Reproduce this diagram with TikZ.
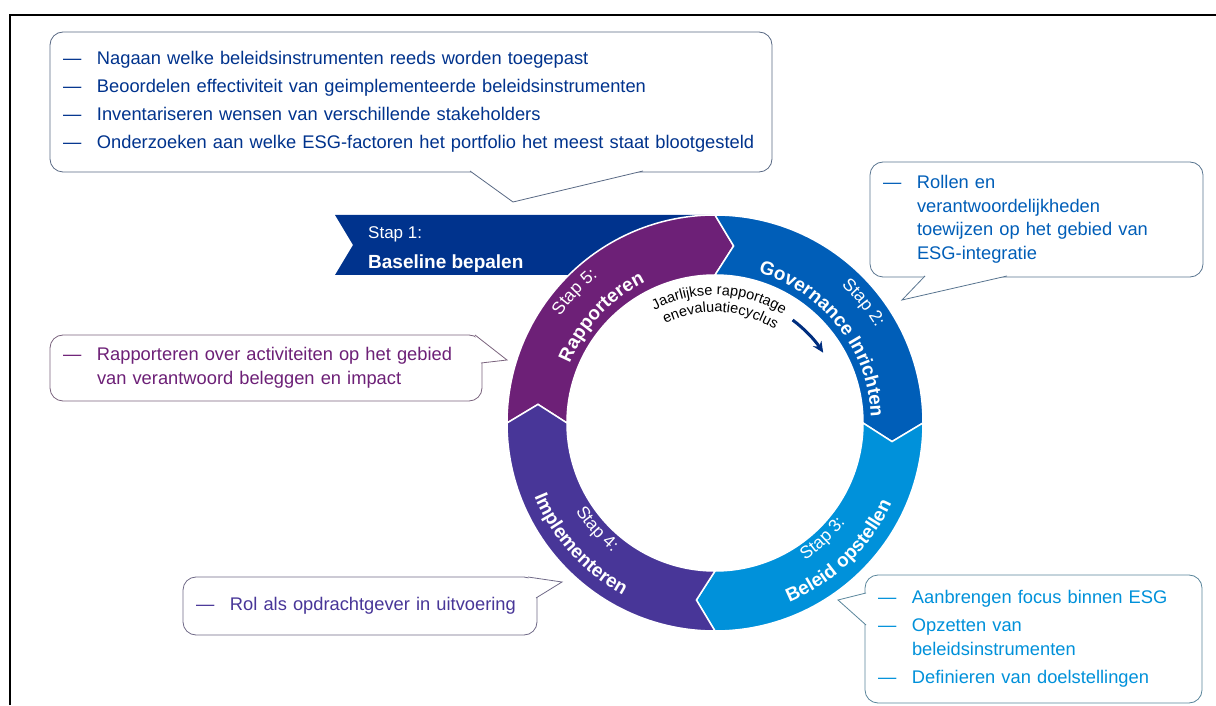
\documentclass[tikz,border=0pt]{standalone}
\usepackage{fontspec}
\setmainfont{Liberation Sans}
\usetikzlibrary{arrows.meta,decorations.text}
\definecolor{stapone}{HTML}{00338D}
\definecolor{staptwo}{HTML}{005EB8}
\definecolor{stapthree}{HTML}{0091DA}
\definecolor{stapfour}{HTML}{483698}
\definecolor{stapfive}{HTML}{6D2077}
\newcommand\itm[1]{\mbox{\makebox[34pt][l]{—}#1}}
\newcommand\cnt[1]{\mbox{\hspace*{34pt}#1}}
\begin{document}
\begin{tikzpicture}[x=1pt,y=1pt,
	ring/.style={draw=white,line width=1.5pt},
	callout/.style={draw=#1!30!gray,line width=0.8pt,rounded corners=13pt,fill=white,text=#1,
		inner xsep=13pt,inner ysep=0pt,align=left,font=\fontsize{18.3}{23.5}\selectfont},
	ptr/.style={fill=white,draw=#1!30!gray,line width=0.8pt},
	steptext/.style={decorate,decoration={text along path,text align=center,text color=white,text={#1}}}]
	\useasboundingbox (0,0) rectangle (1216,705);
	\draw[line width=1.7pt] (10,0) -- (10,690) -- (1216,690);

	\begin{scope}[shift={(715,282)}]
		\fill[stapone] (-380,208) -- (0,208) -- (18,178) -- (0,148) -- (-380,148) -- (-362,178) -- cycle;
		\path[ring,fill=stapfive] (180:208pt) arc[start angle=180,end angle=90,radius=208pt] -- (84:178pt) -- (90:148pt) arc[start angle=90,end angle=180,radius=148pt] -- (174:178pt) -- cycle;
		\path[ring,fill=staptwo] (90:208pt) arc[start angle=90,end angle=0,radius=208pt] -- (-6:178pt) -- (0:148pt) arc[start angle=0,end angle=90,radius=148pt] -- (84:178pt) -- cycle;
		\path[ring,fill=stapthree] (0:208pt) arc[start angle=0,end angle=-90,radius=208pt] -- (-96:178pt) -- (-90:148pt) arc[start angle=-90,end angle=0,radius=148pt] -- (-6:178pt) -- cycle;
		\path[ring,fill=stapfour] (270:208pt) arc[start angle=270,end angle=180,radius=208pt] -- (174:178pt) -- (180:148pt) arc[start angle=180,end angle=270,radius=148pt] -- (264:178pt) -- cycle;

		\path[steptext={|\fontsize{17.5}{20}\selectfont|Stap 5:}] (182:188pt) arc[start angle=182,end angle=92,radius=188pt];
		\path[steptext={|\fontsize{19}{22}\selectfont\bfseries|Rapporteren}] (182:157pt) arc[start angle=182,end angle=92,radius=157pt];
		\path[steptext={|\fontsize{17.5}{20}\selectfont|Stap 2:}] (84:187pt) arc[start angle=84,end angle=-6,radius=187pt];
		\path[steptext={|\fontsize{19}{22}\selectfont\bfseries|Governance Inrichten}] (83:156pt) arc[start angle=83,end angle=-7,radius=156pt];
		\path[steptext={|\fontsize{17.5}{20}\selectfont|Stap 3:}] (-92:164pt) arc[start angle=-92,end angle=-2,radius=164pt];
		\path[steptext={|\fontsize{19}{22}\selectfont\bfseries|Beleid opstellen}] (-91:194pt) arc[start angle=-91,end angle=-1,radius=194pt];
		\path[steptext={|\fontsize{17.5}{20}\selectfont|Stap 4:}] (177:165pt) arc[start angle=177,end angle=267,radius=165pt];
		\path[steptext={|\fontsize{19}{22}\selectfont\bfseries|Implementeren}] (177:195pt) arc[start angle=177,end angle=267,radius=195pt];

		\path[decorate,decoration={text along path,text align=center,text color=black,
			text={|\fontsize{14.5}{17}\selectfont|Jaarlijkse rapportage}}] (133:128pt) arc[start angle=133,end angle=43,radius=128pt];
		\path[decorate,decoration={text along path,text align=center,text color=black,
			text={|\fontsize{14.5}{17}\selectfont|enevaluatiecyclus}}] (132:111pt) arc[start angle=132,end angle=42,radius=111pt];
		\draw[stapone!90!black,line width=3pt,-{Stealth[length=11pt,width=10pt]}] (53:129pt) arc[start angle=53,end angle=33,radius=129pt];
	\end{scope}

	\node[anchor=base west,inner sep=0pt,text=white,font=\fontsize{17}{20}\selectfont] (stapa) at (368,466) {Stap 1:};
	\node[anchor=base west,inner sep=0pt,text=white,font=\fontsize{19}{22}\selectfont\bfseries] (stapb) at (368,436) {Baseline bepalen};

	\node[callout=stapone,text width=696pt,minimum width=722pt,minimum height=140pt] (b1) at (411,603)
		{\itm{Nagaan welke beleidsinstrumenten reeds worden toegepast}\\[4.5pt]
		\itm{Beoordelen effectiviteit van geimplementeerde beleidsinstrumenten}\\[4.5pt]
		\itm{Inventariseren wensen van verschillende stakeholders}\\[4.5pt]
		\itm{Onderzoeken aan welke ESG-factoren het portfolio het meest staat blootgesteld}};
	\coordinate (t1) at (513,503);
	\filldraw[ptr=stapone] (470,534) -- (t1) -- (643,534);

	\node[callout=staptwo,text width=307pt,minimum width=333pt,minimum height=115pt] (b2) at (1036.5,485.5)
		{\itm{Rollen en}\\ \cnt{verantwoordelijkheden}\\ \cnt{toewijzen op het gebied van}\\ \cnt{ESG-integratie}};
	\coordinate (t2) at (902,405);
	\filldraw[ptr=staptwo] (925,429) -- (t2) -- (1007,429);

	\node[callout=stapthree,text width=311pt,minimum width=337pt,minimum height=128pt] (b3) at (1033.5,66)
		{\itm{Aanbrengen focus binnen ESG}\\[4.5pt]
		\itm{Opzetten van}\\ \cnt{beleidsinstrumenten}\\[4.5pt]
		\itm{Definieren van doelstellingen}};
	\coordinate (t3) at (838,105);
	\filldraw[ptr=stapthree] (866,112) -- (t3) -- (866,80);

	\node[callout=stapfour,text width=328pt,minimum width=354pt,minimum height=58pt] (b4) at (360,99)
		{\itm{Rol als opdrachtgever in uitvoering}};
	\coordinate (t4) at (562,123);
	\filldraw[ptr=stapfour] (528,128) -- (t4) -- (536,107);

	\node[callout=stapfive,text width=406pt,minimum width=432pt,minimum height=66pt] (b5) at (266,337)
		{\itm{Rapporteren over activiteiten op het gebied}\\ \cnt{van verantwoord beleggen en impact}};
	\coordinate (t5) at (507,345);
	\filldraw[ptr=stapfive] (475,370) -- (t5) -- (481,342);
\end{tikzpicture}
\end{document}
